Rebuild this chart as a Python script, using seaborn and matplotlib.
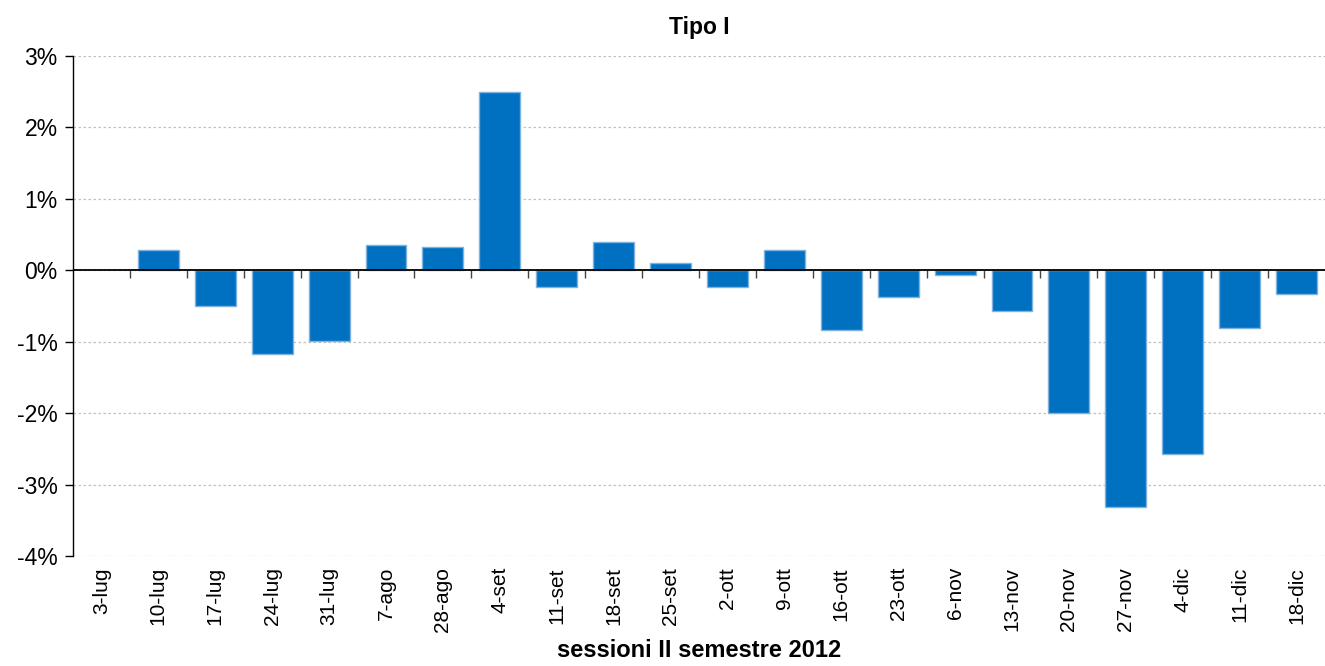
import numpy as np
import pandas as pd
import matplotlib
matplotlib.use("Agg")
import matplotlib.pyplot as plt
import seaborn as sns
from matplotlib.ticker import FuncFormatter

# sessions of the second half of 2012 and weekly change (%)
sessioni = ["3-lug", "10-lug", "17-lug", "24-lug", "31-lug", "7-ago", "28-ago",
            "4-set", "11-set", "18-set", "25-set", "2-ott", "9-ott", "16-ott",
            "23-ott", "6-nov", "13-nov", "20-nov", "27-nov", "4-dic", "11-dic",
            "18-dic"]
variazione = [np.nan, 0.28, -0.50, -1.17, -0.99, 0.35, 0.33,
              2.50, -0.23, 0.39, 0.10, -0.23, 0.29, -0.83,
              -0.37, -0.07, -0.57, -2.00, -3.32, -2.57, -0.81,
              -0.33]

df = pd.DataFrame({"sessione": sessioni, "variazione": variazione})

sns.set_style("white")
plt.rcParams["font.family"] = ["Liberation Sans", "DejaVu Sans"]
plt.rcParams["text.color"] = "black"
plt.rcParams["axes.labelcolor"] = "black"
plt.rcParams["xtick.color"] = "black"
plt.rcParams["ytick.color"] = "black"

fig = plt.figure(figsize=(13.25, 6.66), dpi=100)
ax = fig.add_axes([0.0551, 0.1652, 0.9449, 0.7507])

sns.barplot(data=df, x="sessione", y="variazione", order=sessioni,
            color="#0070C0", saturation=1, width=0.72, edgecolor="#7fb2e0",
            linewidth=1, ax=ax)

ymin, ymax = -4, 3
ax.set_ylim(ymin, ymax)
ax.set_xlim(-0.5, len(sessioni) - 0.5)
ax.set_yticks(np.arange(ymin, ymax + 1, 1))
ax.yaxis.set_major_formatter(FuncFormatter(lambda v, p: f"{v:.0f}%"))
ax.yaxis.grid(True, color="#c0c0c0", linestyle=(0, (2, 2)), linewidth=0.9)
ax.set_axisbelow(True)

for s in ["top", "right", "bottom"]:
    ax.spines[s].set_visible(False)
ax.spines["left"].set_color("black")
ax.spines["left"].set_linewidth(1)

ax.tick_params(axis="y", direction="out", length=6, width=1, color="black",
               labelsize=16.5, pad=5, left=True)
ax.tick_params(axis="x", length=0, labelsize=15, pad=8, labelrotation=90)

# zero line with category separator ticks
ax.axhline(0, color="black", linewidth=1.3, zorder=3)
zero = ax.secondary_xaxis((0 - ymin) / (ymax - ymin))
zero.set_alignment("bottom")
zero.spines["bottom"].set_visible(False)
zero.set_xticks(np.arange(0.5, len(sessioni) - 0.5, 1))
zero.set_xticklabels([])
zero.tick_params(axis="x", direction="out", length=6, width=1,
                 color="#444444", bottom=True, top=False,
                 labelbottom=False, labeltop=False)

ax.set_title("Tipo I", fontsize=16.5, fontweight="bold", pad=16)
ax.set_xlabel("sessioni II semestre 2012", fontsize=17, fontweight="bold",
              labelpad=5)
ax.set_ylabel("")

fig.savefig("out.png", dpi=100)
